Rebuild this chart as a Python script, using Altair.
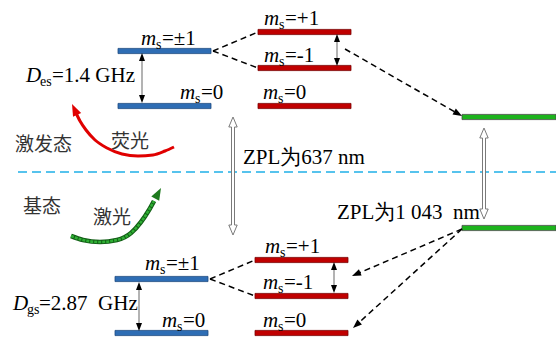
import math
import altair as alt
import pandas as pd

W, H = 556, 338
SERIF = "Liberation Serif"
CJK = "Noto Sans CJK SC"

# ---- sublevels (pixel frame, y measured downward from the top)
level_x0 = [118, 118, 258, 258, 258, 462, 462, 115, 115, 255, 255, 255]
level_x1 = [211, 211, 351, 351, 351, 556, 556, 208, 208, 348, 348, 348]
level_y = [51, 106, 32, 68, 106, 117, 228, 279, 333, 260, 296, 333]
level_grp = ["blue", "blue", "red", "red", "red", "green", "green",
             "blue", "blue", "red", "red", "red"]

# ---- m_s labels: value, left edge of "m", baseline
spin_val = ["±1", "0", "+1", "-1", "0", "±1", "0", "+1", "-1", "0"]
spin_x = [141, 180, 264, 264, 263, 145, 162, 265, 263, 263]
spin_y = [45, 99, 25, 62, 99, 270, 327, 253, 289, 327]

# ---- zero-field splittings
d_sub = ["es", "gs"]
d_text = ["=1.4 GHz", "=2.87\u00a0 GHz"]
d_x = [26, 13]
d_y = [82, 310]

# ---- dashed transitions: start x, start y, end x, end y, arrowhead at end
conn_x1 = [213, 213, 210, 210, 345, 462, 462]
conn_y1 = [51, 51, 279, 279, 49, 229, 229]
conn_x2 = [258, 258, 255, 255, 462, 352, 353]
conn_y2 = [32, 68, 260, 296, 116, 276, 328]
conn_head = [False, False, False, False, True, True, True]

# ---- splitting double arrows: x, top tip, bottom tip
split_x = [142, 337, 139, 334]
split_top = [53, 34, 282, 262]
split_bot = [103, 66, 331, 293]

# ---- zero-phonon-line hollow double arrows: x, top tip, bottom tip
zpl_x = [233, 484]
zpl_top = [117, 128]
zpl_bot = [235, 219]
zpl_label = ["ZPL为637 nm", "ZPL为1 043\u00a0 nm"]
zpl_lx = [243, 337]
zpl_ly = [164, 219]

# ---- curved arrows (fluorescence / laser)
fluo_x = [76, 80, 86, 95, 107, 122, 138, 153, 165, 174]
fluo_y = [113, 121, 130, 140, 148, 154, 156, 155, 151, 147]
fluo_tip = (72, 104)
laser_x = [71, 83, 100, 117, 131, 141, 149, 154]
laser_y = [236, 240, 242, 240, 233, 222, 210, 201]
laser_tip = (161, 188)

# ---- state names
cjk_text = ["激发态", "荧光", "基态", "激光"]
cjk_x = [15, 111, 23, 93]
cjk_y = [145, 142, 207, 218]

# ---- separator between excited and ground manifolds
sep_y = 172
sep_x = [18, 556]

ARROW = "M0,-1L0.75,1L-0.75,1Z"

xs = alt.Scale(domain=[0, W], nice=False, zero=False)
ys = alt.Scale(domain=[0, H], nice=False, zero=False, reverse=True)


def X(f, **kw):
    return alt.X(f, type="quantitative", scale=xs, axis=None, **kw)


def Y(f, **kw):
    return alt.Y(f, type="quantitative", scale=ys, axis=None, **kw)


def head(tip_x, tip_y, from_x, from_y, length, color):
    dx, dy = tip_x - from_x, tip_y - from_y
    n = math.hypot(dx, dy)
    ux, uy = dx / n, dy / n
    ang = math.degrees(math.atan2(ux, -uy)) % 360
    return dict(x=tip_x - ux * length / 2, y=tip_y - uy * length / 2,
                angle=ang, size=length ** 2, color=color)


# separator
sep_df = pd.DataFrame({"x": [sep_x[0]], "x2": [sep_x[1]], "y": [sep_y]})
sep = alt.Chart(sep_df).mark_rule(color="#1FB0E8", strokeWidth=1.6,
                                  strokeDash=[9, 5]).encode(
    x=X("x"), x2="x2", y=Y("y"))

# level bars
lv = pd.DataFrame({"x": level_x0, "x2": level_x1,
                   "y": [v - 2.6 for v in level_y],
                   "y2": [v + 2.6 for v in level_y], "grp": level_grp})
grp_dom = ["blue", "red", "green"]
levels = alt.Chart(lv).mark_rect(strokeWidth=0.8).encode(
    x=X("x"), x2="x2", y=Y("y"), y2="y2",
    fill=alt.Fill("grp:N", scale=alt.Scale(domain=grp_dom,
                  range=["#2E6DB4", "#C00000", "#1DB31D"]), legend=None),
    stroke=alt.Stroke("grp:N", scale=alt.Scale(domain=grp_dom,
                      range=["#1D4A80", "#7A0000", "#4A4A4A"]), legend=None))

# dashed transitions and arrowheads
heads = []
rows = []
for x1, y1, x2, y2, h in zip(conn_x1, conn_y1, conn_x2, conn_y2, conn_head):
    ex, ey = x2, y2
    if h:
        heads.append(head(x2, y2, x1, y1, 9, "black"))
        n = math.hypot(x2 - x1, y2 - y1)
        ex, ey = x2 - (x2 - x1) / n * 7, y2 - (y2 - y1) / n * 7
    rows.append(dict(x=x1, y=y1, x2=ex, y2=ey))
conn = alt.Chart(pd.DataFrame(rows)).mark_rule(
    color="black", strokeWidth=1.5, strokeDash=[6, 4]).encode(
    x=X("x"), y=Y("y"), x2="x2", y2="y2")

# splitting arrows
srows = []
for x, t, b in zip(split_x, split_top, split_bot):
    srows.append(dict(x=x, y=t + 4, y2=b - 4))
    heads.append(head(x, t, x, t + 10, 8, "black"))
    heads.append(head(x, b, x, b - 10, 8, "black"))
split = alt.Chart(pd.DataFrame(srows)).mark_rule(
    color="#8A8A8A", strokeWidth=1.3).encode(x=X("x"), y=Y("y"), y2="y2")

# hollow ZPL arrows traced as outlines
hw, sw, hl = 4.2, 1.5, 10
orows = []
for i, (cx, t, b) in enumerate(zip(zpl_x, zpl_top, zpl_bot)):
    pts = [(cx, t), (cx + hw, t + hl), (cx + sw, t + hl), (cx + sw, b - hl),
           (cx + hw, b - hl), (cx, b), (cx - hw, b - hl), (cx - sw, b - hl),
           (cx - sw, t + hl), (cx - hw, t + hl), (cx, t)]
    for k, (px, py) in enumerate(pts):
        orows.append(dict(arrow=i, k=k, x=px, y=py))
odf = pd.DataFrame(orows)
zfill = alt.Chart(pd.DataFrame({"x": [c - sw for c in zpl_x],
                                "x2": [c + sw for c in zpl_x],
                                "y": [t + hl for t in zpl_top],
                                "y2": [b - hl for b in zpl_bot]})).mark_rect(
    color="white").encode(x=X("x"), x2="x2", y=Y("y"), y2="y2")
zpl = alt.Chart(odf).mark_line(color="#7A7A7A", strokeWidth=1).encode(
    x=X("x"), y=Y("y"), detail="arrow:N", order="k:Q")

# curved arrows
fdf = pd.DataFrame({"x": fluo_x, "y": fluo_y})
fluo = alt.Chart(fdf).mark_line(color="#E00000", strokeWidth=3,
                                interpolate="monotone").encode(x=X("x"), y=Y("y"))
heads.append(head(fluo_tip[0], fluo_tip[1], fluo_x[1], fluo_y[1], 12, "#E00000"))

ldf = pd.DataFrame({"x": laser_x, "y": laser_y})
laser_base = alt.Chart(ldf).mark_line(color="#125E16", strokeWidth=4.6,
                                      interpolate="monotone").encode(x=X("x"), y=Y("y"))
laser_top = alt.Chart(ldf).mark_line(color="#2FAF34", strokeWidth=2.6,
                                     strokeDash=[3, 1],
                                     interpolate="monotone").encode(x=X("x"), y=Y("y"))
heads.append(head(laser_tip[0], laser_tip[1], laser_x[-2], laser_y[-2], 12, "#1E7A1E"))

hdf = pd.DataFrame(heads)
arrowheads = alt.Chart(hdf).mark_point(shape=ARROW, filled=True, opacity=1,
                                       strokeWidth=0).encode(
    x=X("x"), y=Y("y"),
    angle=alt.Angle("angle:Q", scale=None),
    size=alt.Size("size:Q", scale=None),
    color=alt.Color("color:N", scale=None))

# text pieces: italic symbol, subscript, then the rest of the label
ital, sub, norm, big = [], [], [], []
for v, x, y in zip(spin_val, spin_x, spin_y):
    ital.append(dict(x=x, y=y, t="m"))
    sub.append(dict(x=x + 15, y=y + 4, t="s"))
    norm.append(dict(x=x + 21, y=y, t="=" + v))
for s, t, x, y in zip(d_sub, d_text, d_x, d_y):
    ital.append(dict(x=x, y=y, t="D"))
    sub.append(dict(x=x + 14, y=y + 4, t=s))
    big.append(dict(x=x + 26, y=y, t=t))
for t, x, y in zip(zpl_label, zpl_lx, zpl_ly):
    big.append(dict(x=x, y=y, t=t))


def text_layer(rows, size, style="normal", font=SERIF, baseline="alphabetic",
               color="black"):
    return alt.Chart(pd.DataFrame(rows)).mark_text(
        align="left", baseline=baseline, font=font, fontSize=size,
        fontStyle=style, color=color).encode(x=X("x"), y=Y("y"), text="t:N")


t_ital = text_layer(ital, 21, style="italic")
t_sub = text_layer(sub, 14)
t_norm = text_layer(norm, 21)
t_big = text_layer(big, 21)
t_cjk = text_layer([dict(x=x, y=y, t=t) for t, x, y in zip(cjk_text, cjk_x, cjk_y)],
                   19, font=CJK, baseline="middle", color="#333333")

chart = alt.layer(
    sep, zfill, levels, conn, split, zpl, fluo, laser_base, laser_top,
    arrowheads, t_ital, t_sub, t_norm, t_big, t_cjk
).properties(
    width=W, height=H, padding=0, autosize="none", background="white"
).configure_view(stroke=None)

chart.save("out.html", embed_options={"renderer": "svg", "actions": False})
